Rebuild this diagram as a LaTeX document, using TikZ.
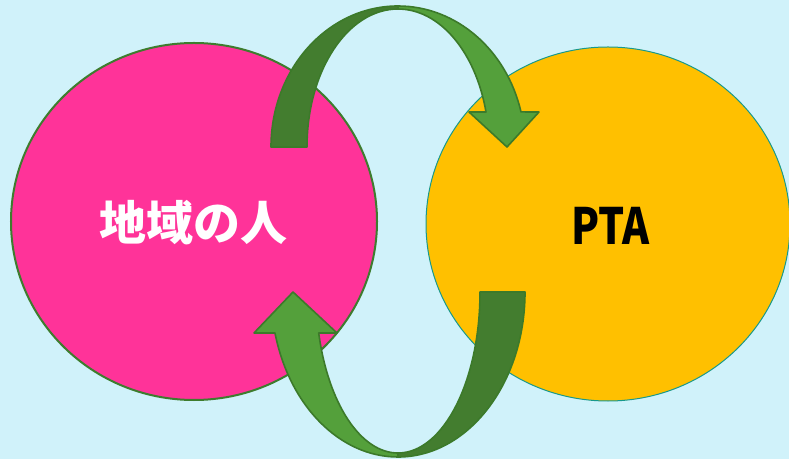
\documentclass[tikz,border=0pt]{standalone}
\usepackage{fontspec}
\newfontfamily\cjk{Noto Sans CJK JP}
\usetikzlibrary{shapes.geometric}
\definecolor{bg}{HTML}{D0F2FA}
\definecolor{pinkc}{HTML}{FF3399}
\definecolor{pinkedge}{HTML}{3E7C2E}
\definecolor{orangec}{HTML}{FFC000}
\definecolor{orangeedge}{HTML}{17998C}
\definecolor{gdark}{HTML}{437D2F}
\definecolor{glight}{HTML}{54A03B}
\definecolor{gline}{HTML}{3C7A2A}
\tikzset{
  blob/.style={ellipse, inner sep=0pt},
  darkpart/.style={fill=gdark, draw=gline, line width=1.6bp, line join=round},
  lightpart/.style={fill=glight, draw=gline, line width=1.6bp, line join=round},
  label/.style={inner sep=0pt, font=\cjk\bfseries\fontsize{47bp}{50bp}\selectfont},
  latinlabel/.style={inner sep=0pt, font=\cjk\bfseries\fontsize{50bp}{52bp}\selectfont}
}
\begin{document}
\begin{tikzpicture}[x=1bp,y=-1bp]
\path[fill=bg] (0,0) rectangle (789,459);
\useasboundingbox (0,0) rectangle (789,459);
% circles
\node[blob, fill=pinkc, draw=pinkedge, line width=2bp, minimum width=366bp, minimum height=357bp] (people) at (194,221.5) {};
\node[blob, fill=orangec, draw=orangeedge, line width=1bp, minimum width=364bp, minimum height=354bp] (pta) at (608,224) {};
\node[label, text=white] (peopletxt) at (193.5,223) {地域の人};
\node[latinlabel, text=black] (ptatxt) at (610.5,225.5) {\scalebox{0.82}[1]{PTA}};
% top curved arrow (from people to pta)
\path[darkpart] (271,147) arc[start angle=180, end angle=270, x radius=127, y radius=141]
  -- (398,9) arc[start angle=270, end angle=180, x radius=91, y radius=138] -- cycle;
\path[lightpart] (398,6) arc[start angle=270, end angle=345.6, x radius=127, y radius=141]
  -- (539,112) -- (507,147) -- (469,112) -- (486,112)
  arc[start angle=345.3, end angle=270, x radius=91, y radius=138] -- cycle;
% bottom curved arrow (from pta to people)
\path[darkpart] (525,292) arc[start angle=0, end angle=90, x radius=127, y radius=165]
  -- (398,453) arc[start angle=90, end angle=0, x radius=82, y radius=161] -- cycle;
\path[lightpart] (398,457) arc[start angle=90, end angle=165.6, x radius=127, y radius=165]
  -- (254,333) -- (293,292) -- (337,333) -- (318.7,333)
  arc[start angle=165.25, end angle=90, x radius=82, y radius=161] -- cycle;
\end{tikzpicture}
\end{document}
